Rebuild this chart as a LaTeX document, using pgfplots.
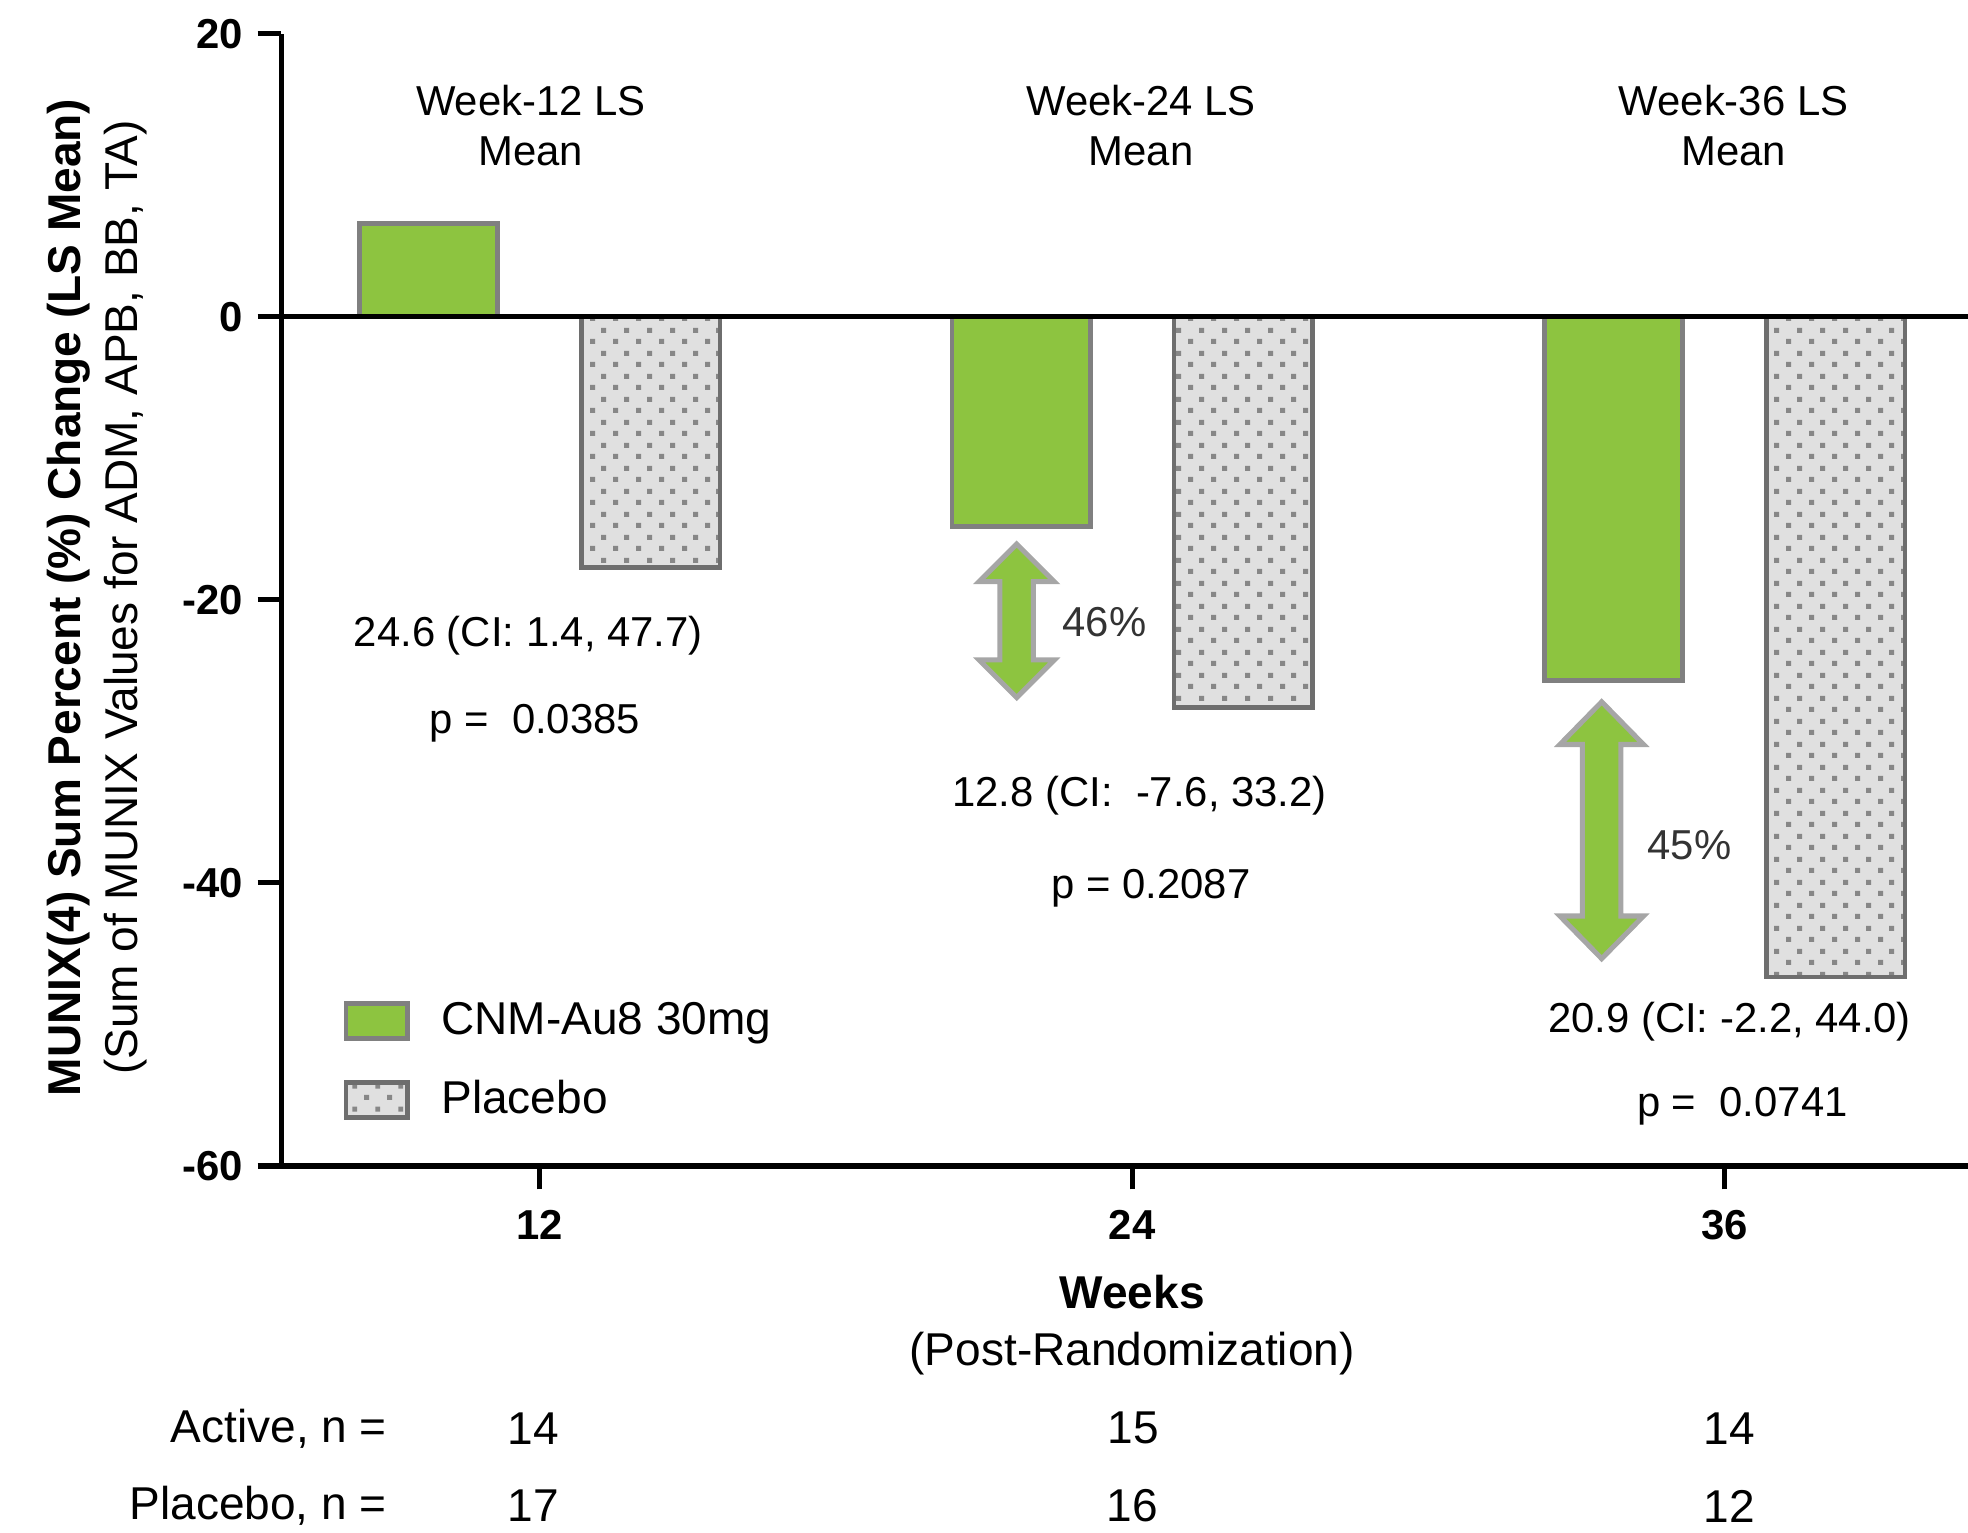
\documentclass[border=0pt]{standalone}
\usepackage{fontspec}
\setmainfont{Liberation Sans}
\usepackage{pgfplots}
\pgfplotsset{compat=1.18}
\usetikzlibrary{patterns}
\definecolor{cnmgreen}{RGB}{141,196,64}
\definecolor{bargray}{RGB}{128,128,128}
\definecolor{placeboedge}{RGB}{110,110,110}
\definecolor{placebofill}{RGB}{224,224,224}
\definecolor{dotgray}{RGB}{135,135,135}
\definecolor{arrowgray}{RGB}{166,166,166}
\definecolor{pctgray}{RGB}{51,51,51}
\pgfdeclarepatternformonly{sqdots}{\pgfqpoint{0pt}{0pt}}{\pgfqpoint{5.4pt}{5.4pt}}{\pgfqpoint{5.4pt}{5.4pt}}{%
\pgfpathrectangle{\pgfqpoint{0.75pt}{0.75pt}}{\pgfqpoint{1.2pt}{1.2pt}}%
\pgfpathrectangle{\pgfqpoint{3.45pt}{3.45pt}}{\pgfqpoint{1.2pt}{1.2pt}}%
\pgfusepath{fill}}
% #1 x, #2 top tip, #3 bottom tip, #4 head half width, #5 head length, #6 shaft half width
\newcommand{\dblarrow}[6]{%
\draw[fill=cnmgreen, draw=arrowgray, line width=1.2pt, line join=miter]
 (axis cs:#1,#2) -- ([shift={(#4,-#5)}]axis cs:#1,#2) -- ([shift={(#6,-#5)}]axis cs:#1,#2)
 -- ([shift={(#6,#5)}]axis cs:#1,#3) -- ([shift={(#4,#5)}]axis cs:#1,#3) -- (axis cs:#1,#3)
 -- ([shift={(-#4,#5)}]axis cs:#1,#3) -- ([shift={(-#6,#5)}]axis cs:#1,#3)
 -- ([shift={(-#6,-#5)}]axis cs:#1,#2) -- ([shift={(-#4,-#5)}]axis cs:#1,#2) -- cycle;}
\begin{document}
\begin{tikzpicture}
\begin{axis}[
 scale only axis, width=403.2pt, height=270.6pt,
 at={(0pt,0pt)}, anchor=south west,
 xmin=6.762, xmax=40.93, ymin=-60, ymax=20,
 axis x line*=bottom, axis y line*=left,
 axis line style={line width=1.2pt, black},
 xtick={12,24,36}, xticklabels={12,24,36},
 ytick={-60,-40,-20,0,20}, yticklabels={-60,-40,-20,0,20},
 tick align=outside, major tick length=5.6pt,
 tick style={line width=1.2pt, black},
 ticklabel style={font=\fontsize{10}{12}\selectfont\bfseries},
 xticklabel style={yshift=-1.5pt},
 /pgf/number format/assume math mode=true,
 clip=false,
 ybar, bar width=2.8,
 legend style={at={(0.0367,0.1463)}, anchor=north west, draw=none, fill=none,
   inner sep=0pt, row sep=9.4pt, font=\fontsize{11}{13}\selectfont,
   nodes={inner sep=0pt},
   /tikz/every odd column/.append style={column sep=7.5pt}},
 legend cell align=left,
 legend image code/.code={\draw[#1] (0pt,-4.2pt) rectangle (14.7pt,4.2pt);},
]
\addplot[ybar, bar shift=0pt, fill=cnmgreen, draw=bargray, line width=1.1pt]
  coordinates {(9.75,6.6) (21.75,-14.8) (33.75,-25.7)};
\addlegendentry{CNM-Au8 30mg}
\addplot[ybar, bar shift=0pt, preaction={fill=placebofill}, preaction={pattern=sqdots, pattern color=dotgray}, draw=placeboedge, line width=1.1pt]
  coordinates {(14.25,-17.7) (26.25,-27.6) (38.25,-46.65)};
\addlegendentry{Placebo}
\draw[line width=1.2pt, black] (axis cs:6.762,0) -- (axis cs:40.93,0);
\dblarrow{21.66}{-16.05}{-26.9}{9pt}{9pt}{4pt}
\dblarrow{33.51}{-27.2}{-45.35}{10pt}{10.2pt}{4.6pt}
\begin{scope}[every node/.style={font=\fontsize{10}{12}\selectfont, align=center}]
\node at (axis cs:11.82,13.5) {Week-12 LS\\Mean};
\node at (axis cs:24.18,13.5) {Week-24 LS\\Mean};
\node at (axis cs:36.18,13.5) {Week-36 LS\\Mean};
\node at (axis cs:11.77,-22.5) {24.6 (CI: 1.4, 47.7)};
\node at (axis cs:11.9,-28.7) {p = \ 0.0385};
\node at (axis cs:24.15,-33.8) {12.8 (CI: \ -7.6, 33.2)};
\node at (axis cs:24.38,-40.4) {p = 0.2087};
\node at (axis cs:36.1,-49.8) {20.9 (CI: -2.2, 44.0)};
\node at (axis cs:36.36,-55.8) {p = \ 0.0741};
\node[text=pctgray] at (axis cs:23.44,-21.55) {46\%};
\node[text=pctgray] at (axis cs:35.29,-37.3) {45\%};
\end{scope}
\end{axis}
\begin{scope}[every node/.style={font=\fontsize{11}{13.5}\selectfont}]
\node[rotate=90, align=center] at (-43.95pt,135.9pt) {\textbf{MUNIX(4) Sum Percent (\%) Change (LS Mean)}\\(Sum of MUNIX Values for ADM, APB, BB, TA)};
\node[align=center] at (203.4pt,-38pt) {\textbf{Weeks}\\(Post-Randomization)};
\node[anchor=east] at (28.8pt,-62.7pt) {Active, n =};
\node[anchor=east] at (28.8pt,-81.3pt) {Placebo, n =};
\node at (60.3pt,-62.7pt) {14};
\node at (203.7pt,-62.7pt) {15};
\node at (346.2pt,-62.7pt) {14};
\node at (60.3pt,-81.3pt) {17};
\node at (203.4pt,-81.3pt) {16};
\node at (346.2pt,-81.3pt) {12};
\end{scope}
\pgfresetboundingbox
\path (-67.2pt,-87.6pt) rectangle (403.2pt,278.7pt);
\end{tikzpicture}
\end{document}
